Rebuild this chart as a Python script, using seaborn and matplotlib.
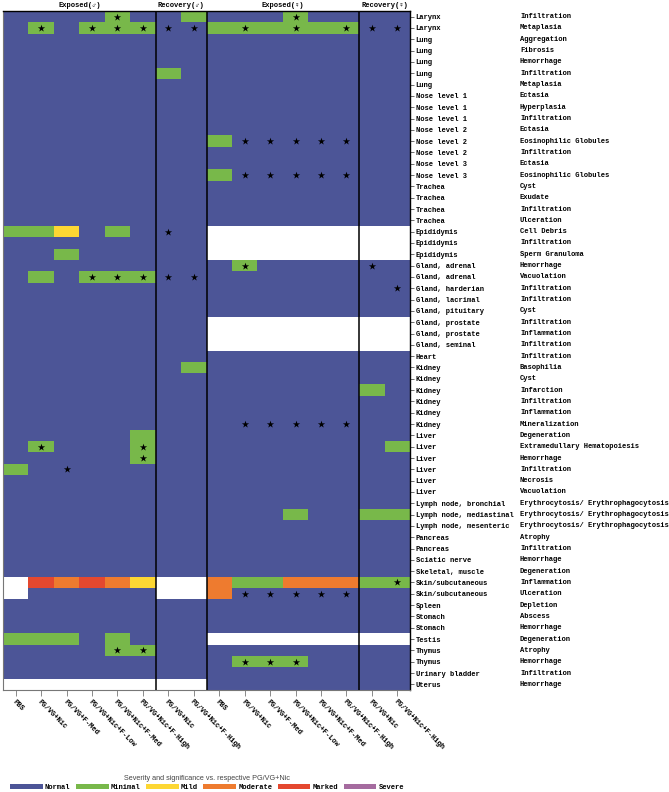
import numpy as np
import pandas as pd
import matplotlib
matplotlib.use("Agg")
import matplotlib.pyplot as plt
import seaborn as sns
from matplotlib.colors import ListedColormap
from matplotlib.patches import Patch
from matplotlib.transforms import blended_transform_factory

# ---------------- data ----------------
organs = [
    "Larynx", "Larynx", "Lung", "Lung", "Lung", "Lung", "Lung",
    "Nose level 1", "Nose level 1", "Nose level 1", "Nose level 2", "Nose level 2",
    "Nose level 2", "Nose level 3", "Nose level 3", "Trachea", "Trachea", "Trachea",
    "Trachea", "Epididymis", "Epididymis", "Epididymis", "Gland, adrenal",
    "Gland, adrenal", "Gland, harderian", "Gland, lacrimal", "Gland, pituitary",
    "Gland, prostate", "Gland, prostate", "Gland, seminal", "Heart", "Kidney",
    "Kidney", "Kidney", "Kidney", "Kidney", "Kidney", "Liver", "Liver", "Liver",
    "Liver", "Liver", "Liver", "Lymph node, bronchial", "Lymph node, mediastinal",
    "Lymph node, mesenteric", "Pancreas", "Pancreas", "Sciatic nerve",
    "Skeletal, muscle", "Skin/subcutaneous", "Skin/subcutaneous", "Spleen",
    "Stomach", "Stomach", "Testis", "Thymus", "Thymus", "Urinary bladder", "Uterus",
]
findings = [
    "Infiltration", "Metaplasia", "Aggregation", "Fibrosis", "Hemorrhage",
    "Infiltration", "Metaplasia", "Ectasia", "Hyperplasia", "Infiltration",
    "Ectasia", "Eosinophilic Globules", "Infiltration", "Ectasia",
    "Eosinophilic Globules", "Cyst", "Exudate", "Infiltration", "Ulceration",
    "Cell Debris", "Infiltration", "Sperm Granuloma", "Hemorrhage", "Vacuolation",
    "Infiltration", "Infiltration", "Cyst", "Infiltration", "Inflammation",
    "Infiltration", "Infiltration", "Basophilia", "Cyst", "Infarction",
    "Infiltration", "Inflammation", "Mineralization", "Degeneration",
    "Extramedullary Hematopoiesis", "Hemorrhage", "Infiltration", "Necrosis",
    "Vacuolation", "Erythrocytosis/ Erythrophagocytosis",
    "Erythrocytosis/ Erythrophagocytosis", "Erythrocytosis/ Erythrophagocytosis",
    "Atrophy", "Infiltration", "Hemorrhage", "Degeneration", "Inflammation",
    "Ulceration", "Depletion", "Abscess", "Hemorrhage", "Degeneration", "Atrophy",
    "Hemorrhage", "Infiltration", "Hemorrhage",
]
groups = [
    "PBS", "PG/VG+Nic", "PG/VG+F-Med", "PG/VG+Nic+F-Low", "PG/VG+Nic+F-Med",
    "PG/VG+Nic+F-High", "PG/VG+Nic", "PG/VG+Nic+F-High",
    "PBS", "PG/VG+Nic", "PG/VG+F-Med", "PG/VG+Nic+F-Low", "PG/VG+Nic+F-Med",
    "PG/VG+Nic+F-High", "PG/VG+Nic", "PG/VG+Nic+F-High",
]
panels = ["Exposed(\u2642)", "Recovery(\u2642)", "Exposed(\u2640)", "Recovery(\u2640)"]
panel_sizes = [6, 2, 6, 2]
severity_levels = ["Normal", "Minimal", "Mild", "Moderate", "Marked", "Severe"]

# severity code per row: 0..5 = Normal..Severe, '-' = not examined
# columns: exposed M (6) | recovery M (2) | exposed F (6) | recovery F (2)
severity = [
    "000010 01 000100 00",  # Larynx Infiltration
    "010111 00 111111 00",  # Larynx Metaplasia
    "000000 00 000000 00",
    "000000 00 000000 00",
    "000000 00 000000 00",
    "000000 10 000000 00",  # Lung Infiltration
    "000000 00 000000 00",
    "000000 00 000000 00",
    "000000 00 000000 00",
    "000000 00 000000 00",
    "000000 00 000000 00",
    "000000 00 100000 00",  # Nose 2 Eosinophilic
    "000000 00 000000 00",
    "000000 00 000000 00",
    "000000 00 100000 00",  # Nose 3 Eosinophilic
    "000000 00 000000 00",
    "000000 00 000000 00",
    "000000 00 000000 00",
    "000000 00 000000 00",
    "112010 00 ------ --",  # Epididymis Cell Debris
    "000000 00 ------ --",
    "001000 00 ------ --",
    "000000 00 010000 00",  # Adrenal Hemorrhage
    "010111 00 000000 00",  # Adrenal Vacuolation
    "000000 00 000000 00",
    "000000 00 000000 00",
    "000000 00 000000 00",
    "000000 00 ------ --",
    "000000 00 ------ --",
    "000000 00 ------ --",
    "000000 00 000000 00",
    "000000 01 000000 00",  # Kidney Basophilia
    "000000 00 000000 00",
    "000000 00 000000 10",  # Kidney Infarction
    "000000 00 000000 00",
    "000000 00 000000 00",
    "000000 00 000000 00",
    "000001 00 000000 00",  # Liver Degeneration
    "010001 00 000000 01",  # Liver EMH
    "000001 00 000000 00",  # Liver Hemorrhage
    "100000 00 000000 00",  # Liver Infiltration
    "000000 00 000000 00",
    "000000 00 000000 00",
    "000000 00 000000 00",
    "000000 00 000100 11",  # LN mediastinal
    "000000 00 000000 00",
    "000000 00 000000 00",
    "000000 00 000000 00",
    "000000 00 000000 00",
    "000000 00 000000 00",
    "-43432 -- 311333 11",  # Skin Inflammation
    "-00000 -- 300000 00",  # Skin Ulceration
    "000000 00 000000 00",
    "000000 00 000000 00",
    "000000 00 000000 00",
    "111010 00 ------ --",  # Testis
    "000011 00 000000 00",  # Thymus Atrophy
    "000000 00 011100 00",  # Thymus Hemorrhage
    "000000 00 000000 00",
    "------ -- 000000 00",  # Uterus
]
# significance vs respective PG/VG+Nic ('*' = significant)
significance = [
    "....*. .. ...*.. ..",
    ".*.*** ** .*.*.* **",
    "...... .. ...... ..",
    "...... .. ...... ..",
    "...... .. ...... ..",
    "...... .. ...... ..",
    "...... .. ...... ..",
    "...... .. ...... ..",
    "...... .. ...... ..",
    "...... .. ...... ..",
    "...... .. ...... ..",
    "...... .. .***** ..",
    "...... .. ...... ..",
    "...... .. ...... ..",
    "...... .. .***** ..",
    "...... .. ...... ..",
    "...... .. ...... ..",
    "...... .. ...... ..",
    "...... .. ...... ..",
    "...... *. ...... ..",
    "...... .. ...... ..",
    "...... .. ...... ..",
    "...... .. .*.... *.",
    "...*** ** ...... ..",
    "...... .. ...... .*",
    "...... .. ...... ..",
    "...... .. ...... ..",
    "...... .. ...... ..",
    "...... .. ...... ..",
    "...... .. ...... ..",
    "...... .. ...... ..",
    "...... .. ...... ..",
    "...... .. ...... ..",
    "...... .. ...... ..",
    "...... .. ...... ..",
    "...... .. ...... ..",
    "...... .. .***** ..",
    "...... .. ...... ..",
    ".*...* .. ...... ..",
    ".....* .. ...... ..",
    "..*... .. ...... ..",
    "...... .. ...... ..",
    "...... .. ...... ..",
    "...... .. ...... ..",
    "...... .. ...... ..",
    "...... .. ...... ..",
    "...... .. ...... ..",
    "...... .. ...... ..",
    "...... .. ...... ..",
    "...... .. ...... ..",
    "...... .. ...... .*",
    "...... .. .***** ..",
    "...... .. ...... ..",
    "...... .. ...... ..",
    "...... .. ...... ..",
    "...... .. ...... ..",
    "....** .. ...... ..",
    "...... .. .***.. ..",
    "...... .. ...... ..",
    "...... .. ...... ..",
]
level_colors = ["#4C5597", "#78B84A", "#FDD733", "#EE7B2F", "#E4482F", "#A56B9F"]

# ---------------- build ----------------
sev = np.array([[np.nan if ch == "-" else float(ch) for ch in r.replace(" ", "")]
                for r in severity])
sig = np.array([[ch == "*" for ch in r.replace(" ", "")] for r in significance])
df = pd.DataFrame(sev)

MONO = ["Liberation Mono", "DejaVu Sans"]
FS = 5.1
W, H = 669, 792
fig = plt.figure(figsize=(W / 100, H / 100), dpi=100)
fig.patch.set_facecolor("white")
ax = fig.add_axes([3 / W, 1 - 690 / H, 407 / W, 679 / H])
cmap = ListedColormap(level_colors)
sns.heatmap(df, ax=ax, cmap=cmap, vmin=-0.5, vmax=5.5, cbar=False,
            xticklabels=groups, yticklabels=organs, linewidths=0)
ax.set_facecolor("white")

# stars
rr, cc = np.nonzero(sig)
ax.scatter(cc + 0.5, rr + 0.5, marker="*", s=30, c="black", linewidths=0, zorder=5)

# panel separators
bounds = np.cumsum(panel_sizes)
for b in bounds[:-1]:
    ax.axvline(b, color="black", lw=1.1, zorder=6)

for side, col in [("top", "black"), ("right", "black"), ("left", "#777777"), ("bottom", "#777777")]:
    ax.spines[side].set_visible(True)
    ax.spines[side].set_color(col)
    ax.spines[side].set_linewidth(1.0 if col == "black" else 0.8)

# y labels on right
ax.yaxis.tick_right()
ax.tick_params(axis="y", length=3, width=0.6, color="#555555", pad=1)
ax.set_yticklabels(organs, rotation=0, fontsize=FS, fontfamily=MONO,
                   fontweight="bold", ha="left")
tr = blended_transform_factory(fig.transFigure, ax.transData)
for i, f in enumerate(findings):
    ax.text(520 / W, i + 0.5, f, transform=tr, fontsize=FS, fontfamily=MONO,
            fontweight="bold", ha="left", va="center")

# x labels
ax.tick_params(axis="x", length=4, width=0.6, color="#777777", pad=2)
ax.set_xticklabels(groups, rotation=-45, fontsize=FS, fontfamily=MONO,
                   fontweight="bold", ha="left", va="top", rotation_mode="anchor")
ax.set_xlabel("")
ax.set_ylabel("")

# panel headers
trh = blended_transform_factory(ax.transData, fig.transFigure)
start = 0
for name, n in zip(panels, panel_sizes):
    ax.text(start + n / 2, 1 - 5.5 / H, name, transform=trh, ha="center",
            va="center", fontsize=FS, fontfamily=MONO, fontweight="bold")
    start += n

# legend
handles = [Patch(facecolor=c, edgecolor="none") for c in level_colors]
fig.text(207 / W, 1 - 779 / H, "Severity and significance vs. respective PG/VG+Nic",
         ha="center", va="center", fontsize=5.2, fontfamily="Liberation Sans",
         color="#444444")
leg = fig.legend(handles, severity_levels, loc="center", ncol=6,
                 bbox_to_anchor=(207 / W, 1 - 787.5 / H), frameon=False,
                 handlelength=4.6, handleheight=0.7, handletextpad=0.3,
                 columnspacing=0.8, borderpad=0,
                 prop={"family": MONO, "weight": "bold", "size": FS})

fig.savefig("out.png", dpi=100, facecolor="white")
